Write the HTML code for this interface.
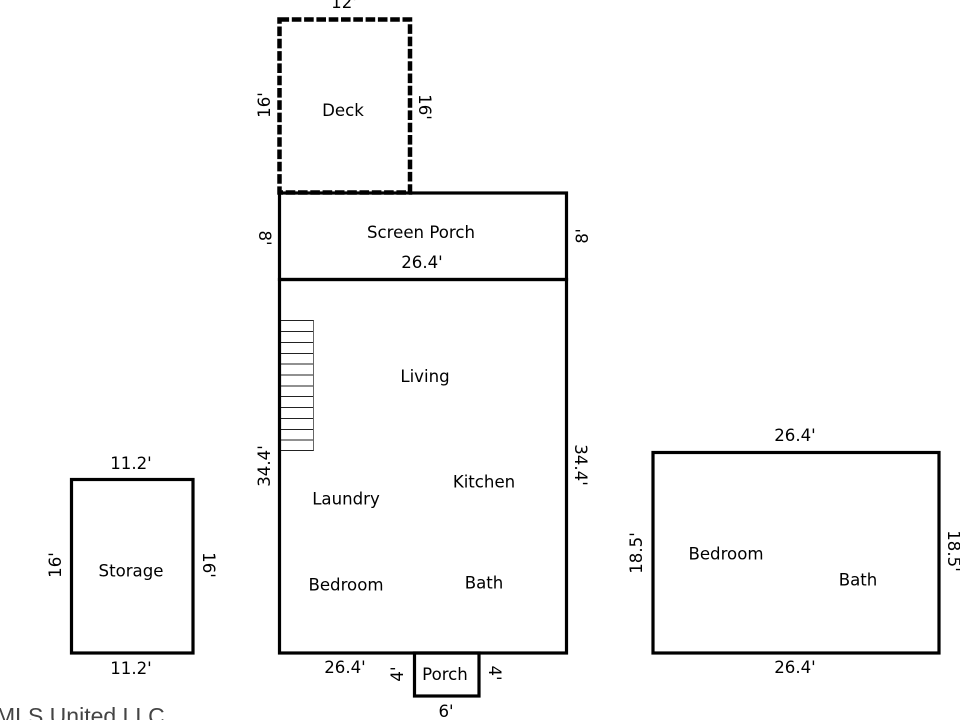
<!DOCTYPE html>
<html>
<head>
<meta charset="utf-8">
<style>
html,body{margin:0;padding:0;background:#fff;}
svg{display:block;}
text{font-family:"DejaVu Sans",sans-serif;font-size:16.6px;fill:#000;text-anchor:middle;}
</style>
</head>
<body>
<svg width="960" height="720" viewBox="0 0 960 720" xmlns="http://www.w3.org/2000/svg">
<rect width="960" height="720" fill="#fff"/>
<g fill="none" stroke="#000" stroke-width="3.2">
<rect x="279.5" y="193" width="287" height="86.5"/>
<rect x="279.5" y="279.5" width="287" height="373.5"/>
<rect x="71.5" y="479.5" width="121.5" height="173.5"/>
<rect x="653" y="452.5" width="286" height="200.5"/>
<rect x="414.5" y="653" width="64.5" height="43"/>
</g>
<rect x="279.5" y="19.5" width="130.5" height="173" fill="none" stroke="#000" stroke-width="4.5" stroke-dasharray="9.6 2.7"/>
<g stroke="#222" stroke-width="1" fill="none">
<path d="M281 320.5H314M281 331.5H314M281 342.5H314M281 353.5H314M281 364H314M281 375H314M281 386H314M281 396.5H314M281 407.5H314M281 418.5H314M281 429.5H314M281 440H314M281 450.5H314"/>
<path d="M313.5 320.5V450.5" stroke="#666"/>
</g>
<text x="344" y="8">12'</text>
<text x="343" y="116">Deck</text>
<text transform="translate(270,105) rotate(-90)">16'</text>
<text transform="translate(419,107) rotate(90)">16'</text>
<text x="421" y="238">Screen Porch</text>
<text x="422" y="268">26.4'</text>
<text transform="translate(259,238) rotate(90)">8'</text>
<text transform="translate(588,236) rotate(-90)">8'</text>
<text x="425" y="382">Living</text>
<text x="484" y="487.500">Kitchen</text>
<text x="346" y="504.500">Laundry</text>
<text x="346" y="590.500">Bedroom</text>
<text x="484" y="588.500">Bath</text>
<text transform="translate(270,466) rotate(-90)">34.4'</text>
<text transform="translate(575,465) rotate(90)">34.4'</text>
<text x="345" y="673">26.4'</text>
<text x="445" y="680">Porch</text>
<text x="446" y="717">6'</text>
<text transform="translate(403,674) rotate(-90)">4'</text>
<text transform="translate(489,673) rotate(90)">4'</text>
<text x="131" y="469">11.2'</text>
<text x="131" y="576.500">Storage</text>
<text x="131" y="674">11.2'</text>
<text transform="translate(61,565) rotate(-90)">16'</text>
<text transform="translate(203,565) rotate(90)">16'</text>
<text x="795" y="441">26.4'</text>
<text x="726" y="559.500">Bedroom</text>
<text x="858" y="585.500">Bath</text>
<text x="795" y="673">26.4'</text>
<text transform="translate(642,553) rotate(-90)">18.5'</text>
<text transform="translate(948,551) rotate(90)">18.5'</text>
<text x="-4" y="724" style="text-anchor:start;font-family:'Liberation Sans',sans-serif;font-size:23px;fill:#444;">MLS United LLC</text>
</svg>
</body>
</html>
